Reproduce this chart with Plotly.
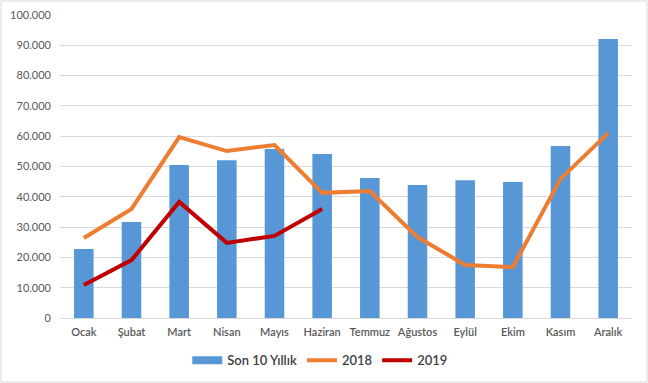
import plotly.graph_objects as go

months = ["Ocak", "Şubat", "Mart", "Nisan", "Mayıs", "Haziran", "Temmuz",
          "Ağustos", "Eylül", "Ekim", "Kasım", "Aralık"]
son10 = [22800, 31700, 50500, 52100, 55800, 54100, 46200, 43900, 45500, 44900, 56800, 92100]
y2018 = [26400, 36000, 59700, 55100, 57100, 41300, 41900, 26700, 17500, 16800, 45900, 61000]
y2019 = [10900, 19100, 38300, 24800, 27100, 36000]

W, H = 648, 383
ml, mr, mt, mb = 60, 16, 15, 65
pw, ph = W - ml - mr, H - mt - mb
BLUE = "#5797d6"

fig = go.Figure()
fig.add_trace(go.Bar(x=months, y=son10, name="Son 10 Yıllık", showlegend=False,
                     legendgroup="son10",
                     marker=dict(color=BLUE, line=dict(width=0)), width=0.41))
# legend entry drawn as a wide rectangle like the original
fig.add_trace(go.Scatter(x=[None], y=[None], name="Son 10 Yıllık", mode="lines",
                         legendgroup="son10", line=dict(color=BLUE, width=8)))
fig.add_trace(go.Scatter(x=months, y=y2018, name="2018", mode="lines",
                         line=dict(color="#ED7D31", width=4)))
fig.add_trace(go.Scatter(x=months[:len(y2019)], y=y2019, name="2019", mode="lines",
                         line=dict(color="#C00000", width=4)))

fig.update_layout(
    width=W, height=H,
    margin=dict(l=ml, r=mr, t=mt, b=mb, autoexpand=False),
    paper_bgcolor="white", plot_bgcolor="white",
    separators=",.",
    font=dict(family="Lato, Liberation Sans, sans-serif", color="#595959", size=11),
    showlegend=True,
    legend=dict(orientation="h", x=0.455, xanchor="center", y=-0.14, yanchor="middle",
                font=dict(size=13, color="#404040", weight=600), traceorder="normal"),
    bargap=0.59,
    shapes=[dict(type="rect", xref="paper", yref="paper",
                 x0=(1 - ml) / pw, x1=(W - 1 - ml) / pw,
                 y0=(mt + ph - (H - 1)) / ph, y1=(mt + ph - 1) / ph,
                 line=dict(color="#d9d9d9", width=1), fillcolor="rgba(0,0,0,0)", layer="below")],
)
fig.update_xaxes(showgrid=False, showline=True, linecolor="#d9d9d9", linewidth=1,
                 ticks="", automargin=False, ticklabelstandoff=4,
                 tickfont=dict(size=11, color="#595959", weight=600))
fig.update_yaxes(range=[0, 100000], dtick=10000, tickformat=",d", showgrid=True,
                 gridcolor="#d9d9d9", gridwidth=1, zeroline=False, showline=False,
                 ticks="", automargin=False, tickfont=dict(size=11, color="#595959"),
                 ticklabelstandoff=8)

fig.write_html("out.html", config={"displayModeBar": False},
               post_script="document.body.style.margin='0';document.body.style.overflow='hidden';")
